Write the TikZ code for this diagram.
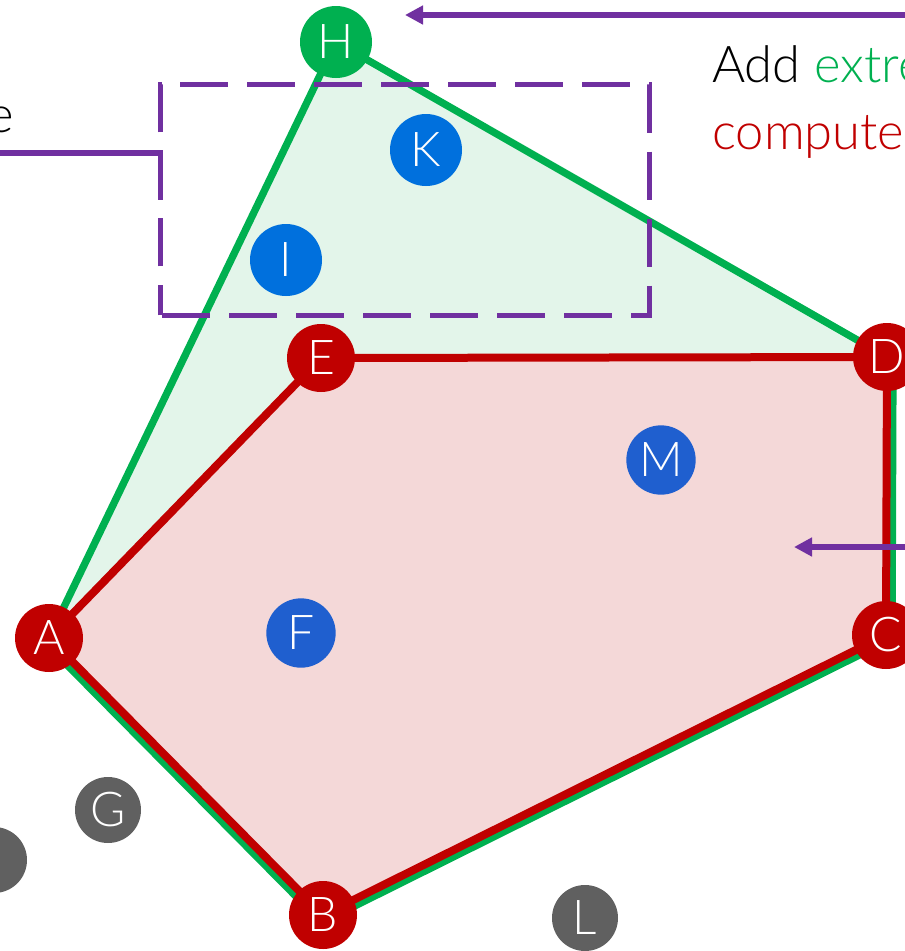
\documentclass[tikz,border=0pt]{standalone}
\usepackage{fontspec}
\setmainfont{Lato Light}
\usetikzlibrary{arrows.meta}
\pgfdeclarelayer{background}
\pgfsetlayers{background,main}
\definecolor{pred}{HTML}{C00000}
\definecolor{pgreen}{HTML}{00B050}
\definecolor{pblue}{HTML}{0070DD}
\definecolor{pblueb}{HTML}{1F5FCF}
\definecolor{pgray}{HTML}{606060}
\definecolor{ppurple}{HTML}{7030A0}
\definecolor{gfill}{HTML}{E3F5EA}
\definecolor{rfill}{HTML}{F4D8D8}
\begin{document}
\begin{tikzpicture}[x=0.75pt,y=-0.75pt,
  vtx/.style={circle,inner sep=0pt,text=white,font=\fontsize{36}{42}\selectfont},
  hullred/.style={vtx,fill=pred,minimum size=51pt},
  hullgreen/.style={vtx,fill=pgreen,minimum size=54pt},
  innerpt/.style={vtx,fill=pblue,minimum size=54pt},
  innerptb/.style={vtx,fill=pblueb,minimum size=52pt},
  outpt/.style={vtx,fill=pgray,minimum size=49.5pt},
  redline/.style={draw=pred,line width=6pt,line join=round},
  greenline/.style={draw=pgreen,line width=5.5pt,line join=round},
  callout/.style={draw=ppurple,line width=3.9pt},
  arrowline/.style={callout,-{Triangle[length=13.5pt,width=13.5pt]}},
  boxdash/.style={draw=ppurple,line width=3.75pt,dash pattern=on 36pt off 14.25pt,dash phase=13.5pt},
  lbl/.style={font=\fontsize{38}{46}\selectfont,inner sep=0pt}
]
\useasboundingbox (0,0) rectangle (905,951);
\clip (0,0) rectangle (905,951);

% points
\node[hullgreen] (H) at (336,42) {H};
\node[innerpt] (K) at (426,150) {K};
\node[innerpt] (I) at (286,260) {I};
\node[hullred] (E) at (321,358) {E};
\node[hullred] (D) at (887,357) {D};
\node[innerptb] (M) at (661,460) {M};
\node[innerptb] (F) at (301,633) {F};
\node[hullred] (A) at (49,638) {A};
\node[hullred] (C) at (886,635) {C};
\node[hullred] (B) at (323,915) {B};
\node[outpt] (G) at (108,810) {G};
\node[outpt] (J) at (-6,860) {};
\node[outpt] (L) at (585,918) {L};

% selection box (area)
\node[inner sep=0pt,minimum width=366pt,minimum height=172.5pt] (box) at (405,200) {};

\begin{pgfonlayer}{background}
  \fill[gfill] (A.center) -- (B.center) -- (C.center) -- (D.center) -- (H.center) -- cycle;
  \fill[rfill] (A.center) -- (B.center) -- (C.center) -- (D.center) -- (E.center) -- cycle;
  \draw[greenline] (A.center) -- (H.center) -- (D.center);
  \draw[greenline] ([shift={(-4.3,4.3)}]A.center) -- ([shift={(-4.3,4.3)}]B.center);
  \draw[greenline] ([shift={(2.7,5.4)}]B.center) -- ([shift={(2.7,5.4)}]C.center);
  \draw[greenline] ([shift={(6,0)}]C.center) -- ([shift={(6,0)}]D.center);
  \draw[redline] (A.center) -- (B.center) -- (C.center) -- (D.center) -- (E.center) -- cycle;
  \draw[boxdash] (box.south west) -- (box.north west) -- (box.north east) -- (box.south east) -- cycle;
\end{pgfonlayer}

% callouts
\coordinate (topsrc) at (940,15);
\coordinate (toptip) at (405,15);
\draw[arrowline] (topsrc) -- (toptip);
\coordinate (midsrc) at (940,547);
\coordinate (midtip) at (794,547);
\draw[arrowline] (midsrc) -- (midtip);
\coordinate (leftsrc) at (-20,153);
\draw[callout] (leftsrc) -| (box.west);

% texts
\node[lbl,anchor=base east] (ltext) at (14,132) {e};
\node[lbl,anchor=base west] (t1) at (712,82) {Add \textcolor{pgreen}{extre}};
\node[lbl,anchor=base west,text=pred] (t2) at (712,149) {compute};
\end{tikzpicture}
\end{document}
